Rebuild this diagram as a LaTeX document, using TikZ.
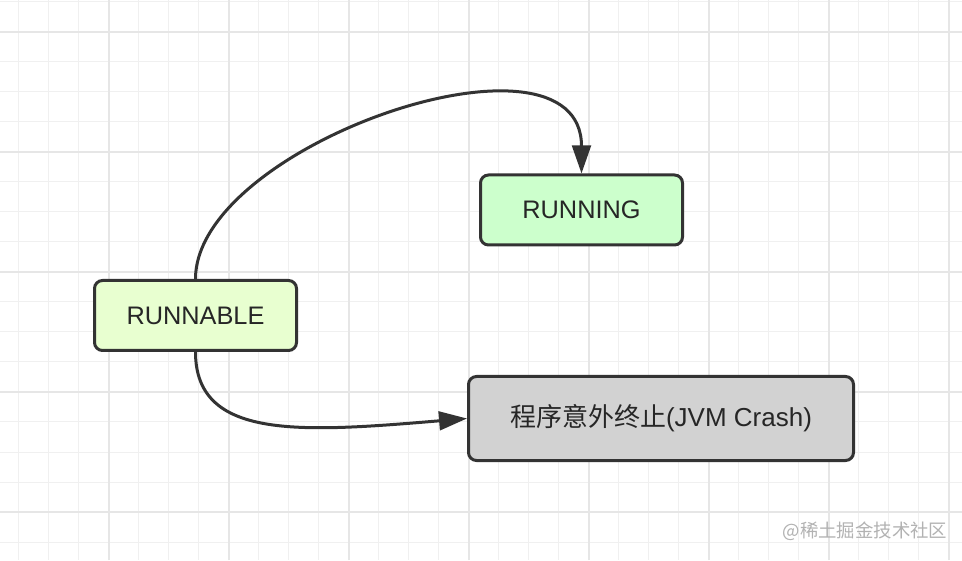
\documentclass[tikz,border=0pt]{standalone}
\usepackage{fontspec}
\setmainfont{Liberation Sans}
\newfontfamily\cjk{Noto Sans CJK SC}
\usetikzlibrary{arrows.meta}
\definecolor{gridminor}{HTML}{F0F0F0}
\definecolor{gridmajor}{HTML}{E6E6E6}
\definecolor{darkline}{HTML}{333333}
\definecolor{yellowgreen}{HTML}{E8FFD0}
\definecolor{lightgreen}{HTML}{CCFFCC}
\definecolor{crashgray}{HTML}{D2D2D2}
\begin{document}
\begin{tikzpicture}[x=0.75pt,y=0.75pt]
		\tikzset{state/.style = {shape=rectangle,draw=darkline,line width=2.25pt,rounded corners=6pt,text=black!85,font=\fontsize{19}{22}\selectfont,minimum width=151.5pt,minimum height=52.5pt,inner sep=0pt}}
		\tikzset{edge/.style = {->,> = {Triangle[length=21pt,width=14pt]},draw=darkline,line width=2.25pt}}
		\useasboundingbox (0,0) rectangle (962,560);
		\fill[white] (0,0) rectangle (962,560);
		% grid
		\foreach \gx in {0,...,31} \draw[gridminor,line width=0.75pt] (18.5+30*\gx,0) -- (18.5+30*\gx,560);
		\foreach \gy in {0,...,18} \draw[gridminor,line width=0.75pt] (0,558-30*\gy) -- (962,558-30*\gy);
		\foreach \gx in {0,...,7} \draw[gridmajor,line width=1.5pt] (108.5+120*\gx,0) -- (108.5+120*\gx,560);
		\foreach \gy in {0,...,4} \draw[gridmajor,line width=1.5pt] (0,528-120*\gy) -- (962,528-120*\gy);
		% states
		\node[state,fill=yellowgreen] (runnable) at (195.5,244.5) {RUNNABLE};
		\node[state,fill=lightgreen] (running) at (581.5,350) {RUNNING};
		\node[state,fill=crashgray,minimum width=288.75pt,minimum height=63pt,font=\fontsize{19.5}{23}\selectfont] (crash) at (661,141.5) {{\cjk 程序意外终止}(JVM Crash)};
		\draw[edge] (runnable.north) .. controls +(0,135) and +(0,160) .. (running.north);
		\draw[edge] (runnable.south) .. controls +(0,-88) and +(-167,-14) .. (crash.west);
		\node[text=black!30,font=\cjk\fontsize{13.8}{17}\selectfont] (mark) at (865,29) {@稀土掘金技术社区};
	\end{tikzpicture}
\end{document}
